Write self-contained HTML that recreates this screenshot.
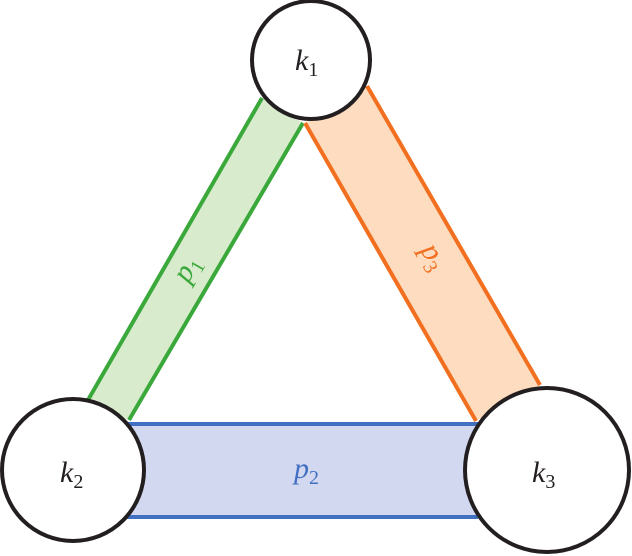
<!DOCTYPE html>
<html><head><style>html,body{margin:0;padding:0;background:#fff}svg{display:block}</style></head><body>
<svg width="632" height="556" viewBox="0 0 632 556" xmlns="http://www.w3.org/2000/svg" font-family="Liberation Serif, serif">
<polygon points="88,400 262,98 303,123 129,420" fill="#d9ebcd"/>
<line x1="88" y1="400" x2="262" y2="98" stroke="#3aa83a" stroke-width="4"/>
<line x1="129" y1="420" x2="303" y2="123" stroke="#3aa83a" stroke-width="4"/>
<polygon points="305,123 367,86 540,385 476,421" fill="#fddcc0"/>
<line x1="305" y1="123" x2="476" y2="421" stroke="#f26f1f" stroke-width="4"/>
<line x1="367" y1="86" x2="540" y2="385" stroke="#f26f1f" stroke-width="4"/>
<rect x="122" y="424" width="356" height="93" fill="#d3d8f1"/>
<line x1="122" y1="424" x2="478" y2="424" stroke="#4170c2" stroke-width="4"/>
<line x1="122" y1="517" x2="478" y2="517" stroke="#4170c2" stroke-width="4"/>
<circle cx="311" cy="60" r="59" fill="#fff" stroke="#231f20" stroke-width="4"/>
<circle cx="73" cy="470" r="71" fill="#fff" stroke="#231f20" stroke-width="4"/>
<circle cx="547" cy="470" r="82" fill="#fff" stroke="#231f20" stroke-width="4"/>
<g font-size="30" fill="#231f20">
<text x="295" y="70" font-style="italic">k<tspan font-style="normal" font-size="20" dy="6">1</tspan></text>
<text x="60" y="482" font-style="italic">k<tspan font-style="normal" font-size="20" dy="6">2</tspan></text>
<text x="532" y="482" font-style="italic">k<tspan font-style="normal" font-size="20" dy="6">3</tspan></text>
</g>
<text x="294" y="478" font-size="30" fill="#4170c2" font-style="italic">p<tspan font-style="normal" font-size="20" dy="6">2</tspan></text>
<text transform="translate(188,284) rotate(-60)" font-size="30" fill="#3aa83a" font-style="italic">p<tspan font-style="normal" font-size="20" dy="6">1</tspan></text>
<text transform="translate(420,250) rotate(60)" font-size="30" fill="#f26f1f" font-style="italic">p<tspan font-style="normal" font-size="20" dy="6">3</tspan></text>
</svg>
</body></html>
